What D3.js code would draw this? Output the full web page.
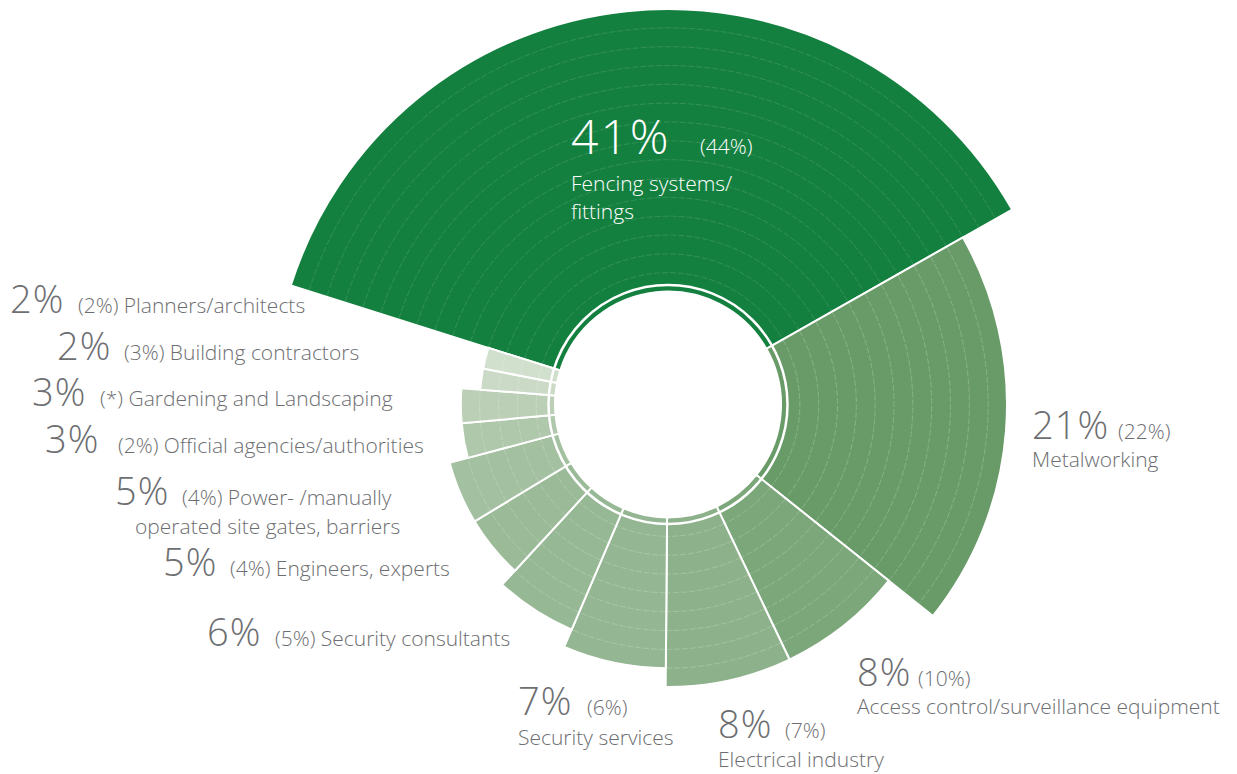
<!DOCTYPE html>
<html>
<head>
<meta charset="utf-8">
<script src="https://cdn.jsdelivr.net/npm/d3@7"></script>
<style>
  html, body { margin: 0; padding: 0; background: #fff; }
  svg { display: block; }
  text { font-family: "Open Sans", "Noto Sans", sans-serif; font-weight: 300; }
</style>
</head>
<body>
<svg id="chart" width="1237" height="774"></svg>
<script>
// ---- data ----
const categories = [
  "Fencing systems/\nfittings",
  "Metalworking",
  "Access control/surveillance equipment",
  "Electrical industry",
  "Security services",
  "Security consultants",
  "Engineers, experts",
  "Power- /manually\noperated site gates, barriers",
  "Official agencies/authorities",
  "Gardening and Landscaping",
  "Building contractors",
  "Planners/architects"
];
const values = [41, 21, 8, 8, 7, 6, 5, 5, 3, 3, 2, 2];
const previous = ["44%", "22%", "10%", "7%", "6%", "5%", "4%", "4%", "2%", "*", "3%", "2%"];

// ---- styles / layout ----
const colors = ["#14803f", "#699b69", "#7ba77a", "#8db18b", "#94b692", "#97b894",
                "#9bba98", "#a3c0a0", "#afc7ab", "#bacfb6", "#cadac6", "#d1dfcd"];
// label layout: big number x, baseline y, small-text x, mode
const labelLayout = [
  {bx: 571, by: 154, sx: 700, mode: "below", lx: 571, lh: 28, gap: 37, big: 48, ls: 2, fill: "#ffffff"},
  {bx: 1032, by: 439, sx: 1118, mode: "below", lx: 1032, lh: 27, gap: 28},
  {bx: 857, by: 686, sx: 918, mode: "below", lx: 857, lh: 28, gap: 28},
  {bx: 718, by: 738, sx: 785, mode: "below", lx: 718, lh: 28, gap: 29},
  {bx: 518, by: 715, sx: 587, mode: "below", lx: 518, lh: 28, gap: 30},
  {bx: 207, by: 646, sx: 275, mode: "inline"},
  {bx: 163, by: 576, sx: 230, mode: "inline"},
  {bx: 115, by: 505, sx: 182, mode: "inline", lx: 135, lh: 29},
  {bx: 45, by: 453, sx: 118, mode: "inline"},
  {bx: 32, by: 406, sx: 100, mode: "inline"},
  {bx: 57, by: 360, sx: 124, mode: "inline"},
  {bx: 10, by: 313, sx: 78, mode: "inline"}
];

const cx = 668, cy = 404.5;
const hole = 113;
const unit = hole / 6;
const ringGap = 119.5;
const startDeg = -72.5;

const color = d3.scaleOrdinal(categories, colors);
const rings = d3.scaleLinear().domain([2, 3, 5, 8, 21, 41]).range([10, 11, 12, 15, 18, 21]);
const outerR = v => Math.round(rings(v)) * unit;

const svg = d3.select("#chart");
const g = svg.append("g").attr("transform", `translate(${cx},${cy})`);

const pie = d3.pie().sort(null).value(d => d.value)
  .startAngle(startDeg * Math.PI / 180)
  .endAngle(startDeg * Math.PI / 180 + 2 * Math.PI);

const data = categories.map((c, i) => ({cat: c, value: values[i], prev: previous[i], i}));
const arcs = pie(data);

const arc = d3.arc().innerRadius(hole).outerRadius(d => outerR(d.data.value));

g.selectAll("path.slice").data(arcs).join("path")
  .attr("class", "slice")
  .attr("d", arc)
  .attr("fill", d => color(d.data.cat))
  .attr("stroke", "#fff")
  .attr("stroke-width", 2)
  .attr("stroke-linejoin", "miter");

// concentric guide lines inside each slice
arcs.forEach(d => {
  const n = Math.round(rings(d.data.value));
  for (let k = 7; k < n; k++) {
    const p = d3.path();
    const r = k * unit;
    p.arc(0, 0, r, d.startAngle - Math.PI / 2 + 0.004, d.endAngle - Math.PI / 2 - 0.004);
    g.append("path")
      .attr("d", p.toString())
      .attr("fill", "none")
      .attr("stroke", "#ffffff")
      .attr("stroke-opacity", d.data.i === 0 ? 0.22 : 0.3)
      .attr("stroke-width", d.data.i === 0 ? 0.6 : 0.7)
      .attr("stroke-dasharray", "6 2");
  }
});

// white separating circle
g.append("circle").attr("r", ringGap).attr("fill", "none")
  .attr("stroke", "#fff").attr("stroke-width", 2.5);

// ---- labels ----
const grey = "#6d6e71";
const labels = svg.append("g");
data.forEach((d, i) => {
  const L = labelLayout[i];
  const fill = L.fill || grey;
  const parts = d.cat.split("\n");
  const pct = d.value + "%";
  labels.append("text")
    .attr("x", L.bx).attr("y", L.by)
    .attr("font-size", L.big || 38)
    .attr("letter-spacing", L.ls || 1)
    .attr("fill", fill)
    .text(pct);
  if (L.mode === "inline") {
    labels.append("text")
      .attr("x", L.sx).attr("y", L.by)
      .attr("font-size", 21).attr("fill", fill)
      .text("(" + d.prev + ") " + parts[0]);
    parts.slice(1).forEach((t, j) => {
      labels.append("text")
        .attr("x", L.lx).attr("y", L.by + (j + 1) * L.lh)
        .attr("font-size", 21).attr("fill", fill)
        .text(t);
    });
  } else {
    labels.append("text")
      .attr("x", L.sx).attr("y", L.by)
      .attr("font-size", 21).attr("fill", fill)
      .text("(" + d.prev + ")");
    parts.forEach((t, j) => {
      labels.append("text")
        .attr("x", L.lx).attr("y", L.by + L.gap + j * L.lh)
        .attr("font-size", 21).attr("fill", fill)
        .text(t);
    });
  }
});
</script>
</body>
</html>
